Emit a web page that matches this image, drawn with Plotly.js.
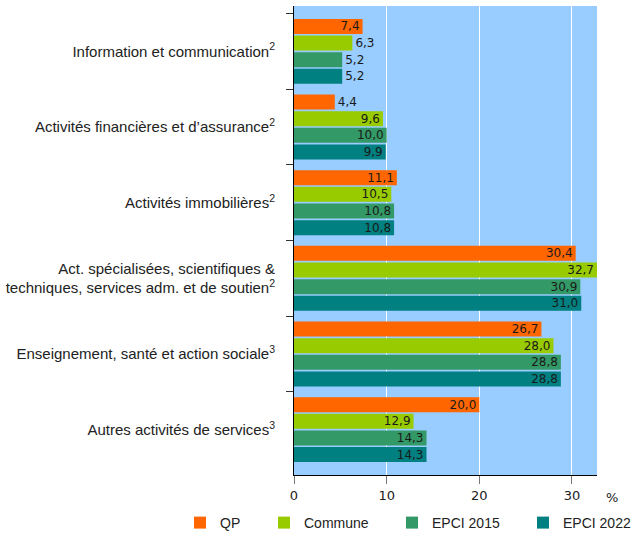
<!DOCTYPE html>
<html>
<head>
<meta charset="utf-8">
<script src="https://cdn.plot.ly/plotly-3.0.1.min.js"></script>
<style>html,body{margin:0;padding:0;background:#fff;}#chart{width:643px;height:538px;}</style>
</head>
<body>
<div id="chart"></div>
<script>
const categories = [
  "Information et communication<sup>2</sup>",
  "Activités financières et d’assurance<sup>2</sup>",
  "Activités immobilières<sup>2</sup>",
  "Act. spécialisées, scientifiques &<br>techniques, services adm. et de soutien<sup>2</sup>",
  "Enseignement, santé et action sociale<sup>3</sup>",
  "Autres activités de services<sup>3</sup>"
];
const seriesNames = ["QP", "Commune", "EPCI 2015", "EPCI 2022"];
const qp       = [7.4, 4.4, 11.1, 30.4, 26.7, 20.0];
const commune  = [6.3, 9.6, 10.5, 32.7, 28.0, 12.9];
const epci2015 = [5.2, 10.0, 10.8, 30.9, 28.8, 14.3];
const epci2022 = [5.2, 9.9, 10.8, 31.0, 28.8, 14.3];
const xTicks = [0, 10, 20, 30];

const colors = ["#FF6600", "#99CC00", "#339966", "#008080"];
const allSeries = [qp, commune, epci2015, epci2022];
const legendIds = ["legend", "legend2", "legend3", "legend4"];
const legendLeft = [180, 264, 392, 523];

const W = 643, H = 538;
const textFont = {family: "DejaVu Sans", size: 12, color: "#1a1a1a"};

const traces = allSeries.map((vals, i) => ({
  type: "bar",
  orientation: "h",
  name: seriesNames[i],
  y: categories,
  x: vals,
  legend: legendIds[i],
  marker: {color: colors[i], line: {width: 0}},
  texttemplate: "%{x:.1f}",
  textposition: vals.map(v => v > 7 ? "inside" : "outside"),
  insidetextanchor: "end",
  constraintext: "none",
  insidetextfont: textFont,
  outsidetextfont: textFont,
  textfont: textFont,
  cliponaxis: false,
  hoverinfo: "none"
}));

const legendBase = {
  orientation: "h",
  xref: "container", yref: "container",
  xanchor: "left", yanchor: "middle",
  y: 1 - 523 / H,
  bgcolor: "rgba(0,0,0,0)",
  borderwidth: 0,
  font: {family: "Liberation Sans", size: 14, color: "#222"}
};

const layout = {
  width: W, height: H,
  margin: {l: 294, r: 46, t: 6, b: 63, pad: 0},
  paper_bgcolor: "#ffffff",
  plot_bgcolor: "#99CCFF",
  separators: ", ",
  barmode: "group",
  bargap: 0.12,
  bargroupgap: 0.1,
  showlegend: true,
  xaxis: {
    range: [0, 32.7],
    tickvals: xTicks,
    ticktext: xTicks.map(String),
    showgrid: true,
    gridcolor: "#ffffff",
    gridwidth: 1,
    zeroline: false,
    showline: true,
    linecolor: "#000000",
    linewidth: 1,
    ticks: "outside",
    ticklen: 8,
    tickcolor: "#777777",
    tickfont: {family: "DejaVu Sans", size: 13, color: "#222"}
  },
  yaxis: {
    type: "category",
    range: [5.6, -0.6],
    showgrid: false,
    zeroline: false,
    showline: true,
    linecolor: "#000000",
    linewidth: 1,
    ticks: "outside",
    tickson: "boundaries",
    ticklen: 7,
    tickcolor: "#333333",
    ticklabelstandoff: 15,
    tickfont: {family: "Liberation Sans", size: 15, color: "#222"}
  },
  annotations: [{
    text: "%",
    xref: "paper", yref: "paper",
    x: (612 - 294) / (643 - 294 - 46), y: -(497 - 475) / (538 - 6 - 63),
    xanchor: "center", yanchor: "middle",
    showarrow: false,
    font: {family: "DejaVu Sans", size: 13, color: "#222"}
  }]
};
legendIds.forEach((id, i) => {
  layout[id] = Object.assign({}, legendBase, {x: legendLeft[i] / W});
});

Plotly.newPlot("chart", traces, layout, {displayModeBar: false, staticPlot: true});
</script>
</body>
</html>
